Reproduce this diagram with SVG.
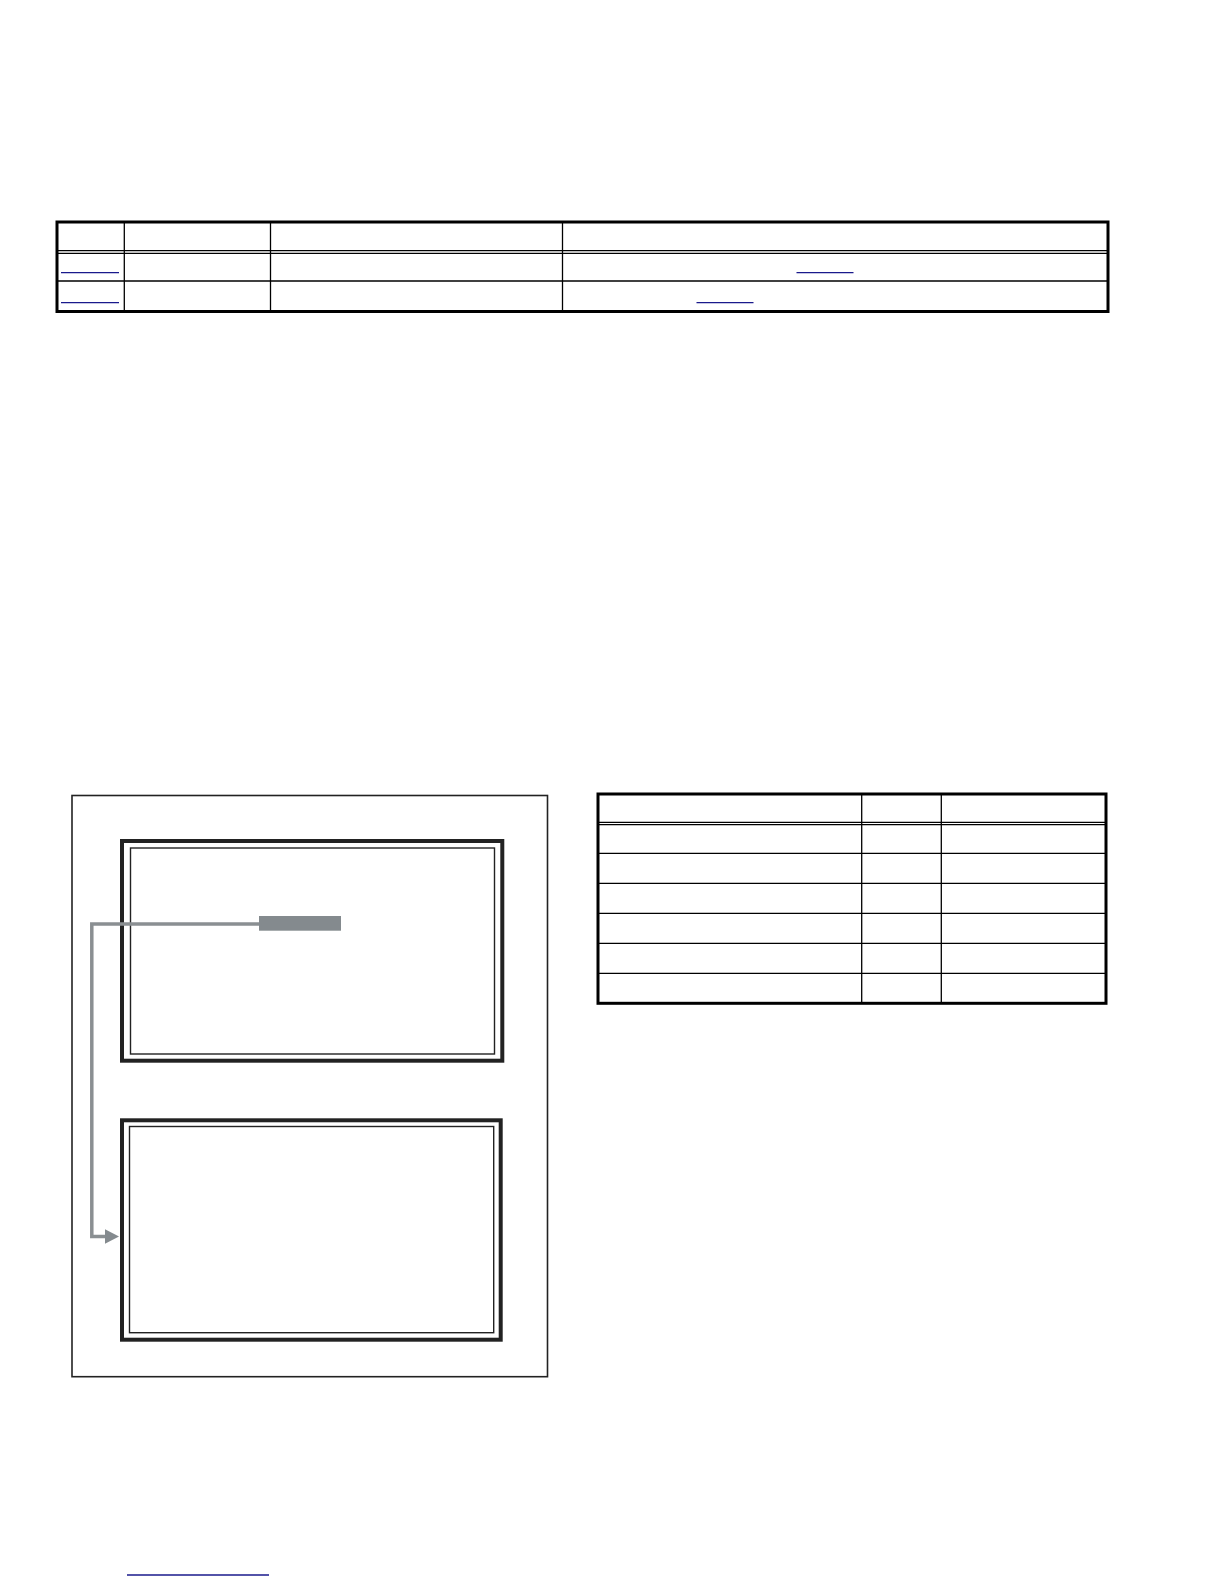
<svg xmlns="http://www.w3.org/2000/svg" width="1224" height="1584" viewBox="0 0 1224 1584">
<style>
.outer{fill:none;stroke:#000;stroke-width:3}
.grid{stroke:#000;stroke-width:1.3;fill:none}
.link{stroke:#1a1a8c;stroke-width:1.3}
.frame{fill:none;stroke:#222;stroke-width:1.6}
.thick{fill:none;stroke:#222;stroke-width:4}
.thin{fill:none;stroke:#222;stroke-width:1.4}
.conn{fill:none;stroke:#8a8f92;stroke-width:3.5}
</style>
<defs>
<marker id="arr" markerWidth="15" markerHeight="16" refX="0.5" refY="7.5" orient="auto" markerUnits="userSpaceOnUse">
<path d="M0,0 L14.5,7.5 L0,15 Z" fill="#848a8e"/>
</marker>
</defs>
<rect width="1224" height="1584" fill="#fff"/>
<g id="table-top">
<rect class="outer" x="57" y="222" width="1051" height="89.5"/>
<line class="grid" x1="57" y1="250.7" x2="1108" y2="250.7"/>
<line class="grid" x1="57" y1="253.3" x2="1108" y2="253.3"/>
<line class="grid" x1="57" y1="281" x2="1108" y2="281"/>
<line class="grid" x1="124.3" y1="222" x2="124.3" y2="311.5"/>
<line class="grid" x1="270.5" y1="222" x2="270.5" y2="311.5"/>
<line class="grid" x1="562.5" y1="222" x2="562.5" y2="311.5"/>
<line class="link" x1="61" y1="272.7" x2="119" y2="272.7"/>
<line class="link" x1="61" y1="302.7" x2="119" y2="302.7"/>
<line class="link" x1="796.5" y1="272.7" x2="853.5" y2="272.7"/>
<line class="link" x1="696.5" y1="302.7" x2="753.5" y2="302.7"/>
</g>
<g id="table-right">
<rect class="outer" x="598" y="794" width="508" height="209.3"/>
<line class="grid" x1="598" y1="822.3" x2="1106" y2="822.3"/>
<line class="grid" x1="598" y1="824.6" x2="1106" y2="824.6"/>
<line class="grid" x1="598" y1="853.3" x2="1106" y2="853.3"/>
<line class="grid" x1="598" y1="883.3" x2="1106" y2="883.3"/>
<line class="grid" x1="598" y1="913.3" x2="1106" y2="913.3"/>
<line class="grid" x1="598" y1="943.3" x2="1106" y2="943.3"/>
<line class="grid" x1="598" y1="973.3" x2="1106" y2="973.3"/>
<line class="grid" x1="861.7" y1="794" x2="861.7" y2="1003.3"/>
<line class="grid" x1="941.3" y1="794" x2="941.3" y2="1003.3"/>
</g>
<g id="frame">
<rect class="frame" x="72" y="795.5" width="475.5" height="581.2"/>
</g>
<g id="box-top">
<rect class="thick" x="122" y="841" width="380.3" height="219.7"/>
<rect class="thin" x="130.5" y="848" width="364" height="206"/>
<rect x="259" y="916" width="82" height="14.7" fill="#848a8e"/>
</g>
<g id="box-bottom">
<rect class="thick" x="122" y="1120.3" width="378.7" height="219.4"/>
<rect class="thin" x="129.5" y="1126.5" width="364.2" height="206.2"/>
</g>
<g id="connectors">
<path class="conn" d="M259,924 H91.8 V1236.5 H105" marker-end="url(#arr)"/>
</g>
<g id="link-bottom">
<line class="link" x1="127" y1="1575" x2="269" y2="1575"/>
</g>
</svg>
